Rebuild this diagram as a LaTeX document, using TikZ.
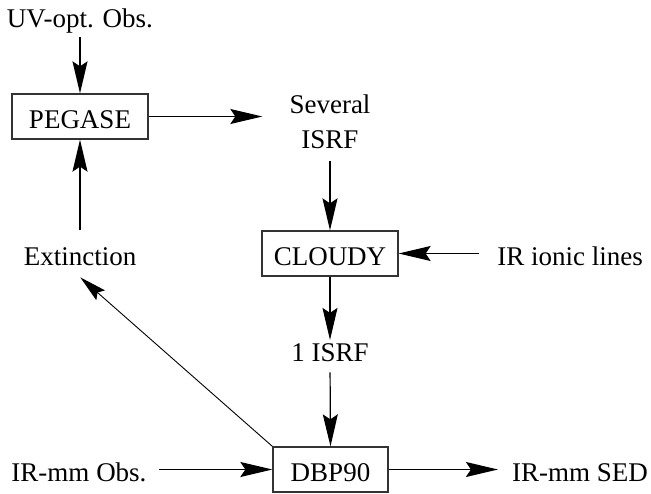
\documentclass[tikz,border=0pt]{standalone}
\usepackage{fontspec}
\setmainfont{Liberation Serif}
\usetikzlibrary{arrows.meta}

\tikzset{
  box/.style={draw=black!80, line width=1.3pt, minimum width=136pt, minimum height=45pt,
              inner sep=0pt, text height=23pt, text depth=0pt},
  label/.style={inner sep=0pt, anchor=base},
  flow/.style={line width=1.2pt, -{Stealth[length=32pt, width=15pt, inset=5pt]}},
  thinflow/.style={line width=0.9pt, -{Stealth[length=27pt, width=13pt, inset=4pt]}},
}

\begin{document}
\begin{tikzpicture}[x=1pt, y=-1pt, font=\fontsize{27}{35}\selectfont]
  \useasboundingbox (0,0) rectangle (651,493);

  % processing codes
  \node[box] (peg) at (80,116.5) {PEGASE};
  \node[box] (cloudy) at (330,253.5) {CLOUDY};
  \node[box, minimum width=115pt] (dbp) at (330.5,469.5) {DBP90};

  % inputs and products
  \node[label] (uv) at (80,27) {UV-opt. Obs.};
  \node[inner sep=0pt, align=center] (sev) at (330,121.5) {Several\\ISRF};
  \node[label] (ion) at (570,265) {IR ionic lines};
  \node[label] (ext) at (80,265) {Extinction};
  \node[label] (isrf) at (330,361) {1 ISRF};
  \node[label] (obs) at (79,481) {IR-mm Obs.};
  \node[label] (sed) at (580,481) {IR-mm SED};

  % connectors
  \draw[flow, shorten <=4pt] (uv.south) -- (peg.north);
  \draw[flow, shorten >=27pt] (peg.east) -- (peg.east -| sev.west);
  \draw[flow, shorten <=12pt] (sev.south) -- (cloudy.north);
  \draw[flow, shorten <=18pt] (cloudy.east -| ion.west) -- (cloudy.east);
  \draw[flow, shorten >=3pt] (cloudy.south) -- (isrf.north);
  \draw[flow, shorten <=11pt] (isrf.south) -- (dbp.north);
  \draw[flow, shorten <=12.5pt] (dbp.west -| obs.east) -- (dbp.west);
  \draw[flow, shorten >=14pt] (dbp.east) -- (dbp.east -| sed.west);
  \draw[flow, shorten <=16.5pt] (ext.north) -- (peg.south);
  \draw[thinflow, shorten >=18pt] (dbp.north west) -- (ext.-145);
\end{tikzpicture}
\end{document}
